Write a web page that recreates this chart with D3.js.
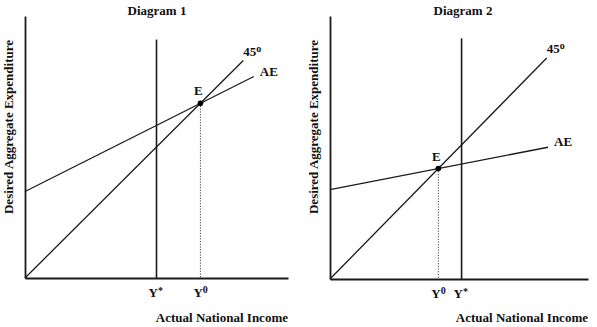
<!DOCTYPE html>
<html>
<head>
<meta charset="utf-8">
<script src="https://cdn.jsdelivr.net/npm/d3@7"></script>
<style>
  html, body { margin: 0; padding: 0; background: #fff; }
  svg { display: block; }
  text { font-family: "Liberation Serif", "Times New Roman", serif; font-weight: bold; fill: #111; }
</style>
</head>
<body>
<svg id="chart" width="597" height="327"></svg>
<script>
// Panel titles and axis captions
const panelTitles = ["Diagram 1", "Diagram 2"];
const yAxisTitle = "Desired Aggregate Expenditure";
const xAxisTitle = "Actual National Income";

// Potential output Y* (vertical line) for each panel, with the line's top
const potentialX = [50, 51];
const potentialTop = [91, 91.5];

// 45-degree line end points (starts at origin)
const line45End = [83, 84];

// Aggregate expenditure lines: [x, y] endpoints
const aeLine1 = [[0, 33], [87, 76.9]];
const aeLine2 = [[0, 34], [84.5, 50.1]];

// Equilibrium points E (on the 45-degree line)
const equilibrium = [[66.7, 66.7], [42, 42]];

// Pixel frames of the two panels
const frames = [
  { x0: 25, x1: 288, y0: 278, y1: 16 },
  { x0: 330, x1: 588, y0: 279, y1: 16 }
];

const svg = d3.select("#chart");
const ink = "#1a1a1a";
const fs = 13;

frames.forEach((f, i) => {
  const x = d3.scaleLinear().domain([0, 100]).range([f.x0, f.x1]);
  const y = d3.scaleLinear().domain([0, 100]).range([f.y0, f.y1]);
  const g = svg.append("g");
  const ae = i === 0 ? aeLine1 : aeLine2;
  const eq = equilibrium[i];

  // Axes without ticks
  const xAxis = g.append("g").attr("transform", `translate(0,${f.y0})`)
    .call(d3.axisBottom(x).tickValues([]).tickSizeOuter(0));
  const yAxis = g.append("g").attr("transform", `translate(${f.x0},0)`)
    .call(d3.axisLeft(y).tickValues([]).tickSizeOuter(0));
  [xAxis, yAxis].forEach(a => a.select(".domain").attr("stroke", ink).attr("stroke-width", 1.8));

  const line = d3.line().x(d => x(d[0])).y(d => y(d[1]));

  // Potential output
  g.append("path").attr("d", line([[potentialX[i], 0], [potentialX[i], potentialTop[i]]]))
    .attr("stroke", ink).attr("stroke-width", 1.6).attr("fill", "none");

  // 45-degree line
  g.append("path").attr("d", line([[0, 0], [line45End[i], line45End[i]]]))
    .attr("stroke", ink).attr("stroke-width", 1.3).attr("fill", "none");

  // AE line
  g.append("path").attr("d", line(ae))
    .attr("stroke", ink).attr("stroke-width", 1.3).attr("fill", "none");

  // Dotted drop line from E to the income axis
  g.append("path").attr("d", line([[eq[0], eq[1]], [eq[0], 0]]))
    .attr("stroke", "#444").attr("stroke-width", 1).attr("stroke-dasharray", "1.2,1.5").attr("fill", "none");

  // Equilibrium point
  g.append("circle").attr("cx", x(eq[0])).attr("cy", y(eq[1])).attr("r", 2.8).attr("fill", "#000");

  // Labels
  g.append("text").attr("x", x(eq[0]) - 2).attr("y", y(eq[1]) - 8)
    .attr("text-anchor", "middle").attr("font-size", fs).text("E");

  const l45 = g.append("text").attr("x", x(line45End[i])).attr("y", y(line45End[i]) - 5)
    .attr("font-size", fs);
  l45.append("tspan").text("45");
  l45.append("tspan").attr("dy", -4).attr("font-size", 10).text("o");

  g.append("text").attr("x", x(ae[1][0]) + 6).attr("y", y(ae[1][1]) - 1)
    .attr("font-size", fs).text("AE");

  // Tick labels Y* and Y0
  const ys = g.append("text").attr("x", x(potentialX[i]) - 8).attr("y", f.y0 + 19).attr("font-size", fs);
  ys.append("tspan").text("Y");
  ys.append("tspan").attr("dy", -3).attr("font-size", 10).text("*");

  const y0l = g.append("text").attr("x", x(eq[0]) - 7).attr("y", f.y0 + 19).attr("font-size", fs);
  y0l.append("tspan").text("Y");
  y0l.append("tspan").attr("dy", -4).attr("font-size", 10).text("0");

  // Titles
  g.append("text").attr("x", i === 0 ? 157 : 463).attr("y", 15)
    .attr("text-anchor", "middle").attr("font-size", fs).text(panelTitles[i]);

  g.append("text").attr("x", f.x1).attr("y", 322)
    .attr("text-anchor", "end").attr("font-size", fs).text(xAxisTitle);

  g.append("text")
    .attr("transform", `translate(${f.x0 - 12},127) rotate(-90)`)
    .attr("text-anchor", "middle").attr("font-size", fs).text(yAxisTitle);
});
</script>
</body>
</html>
